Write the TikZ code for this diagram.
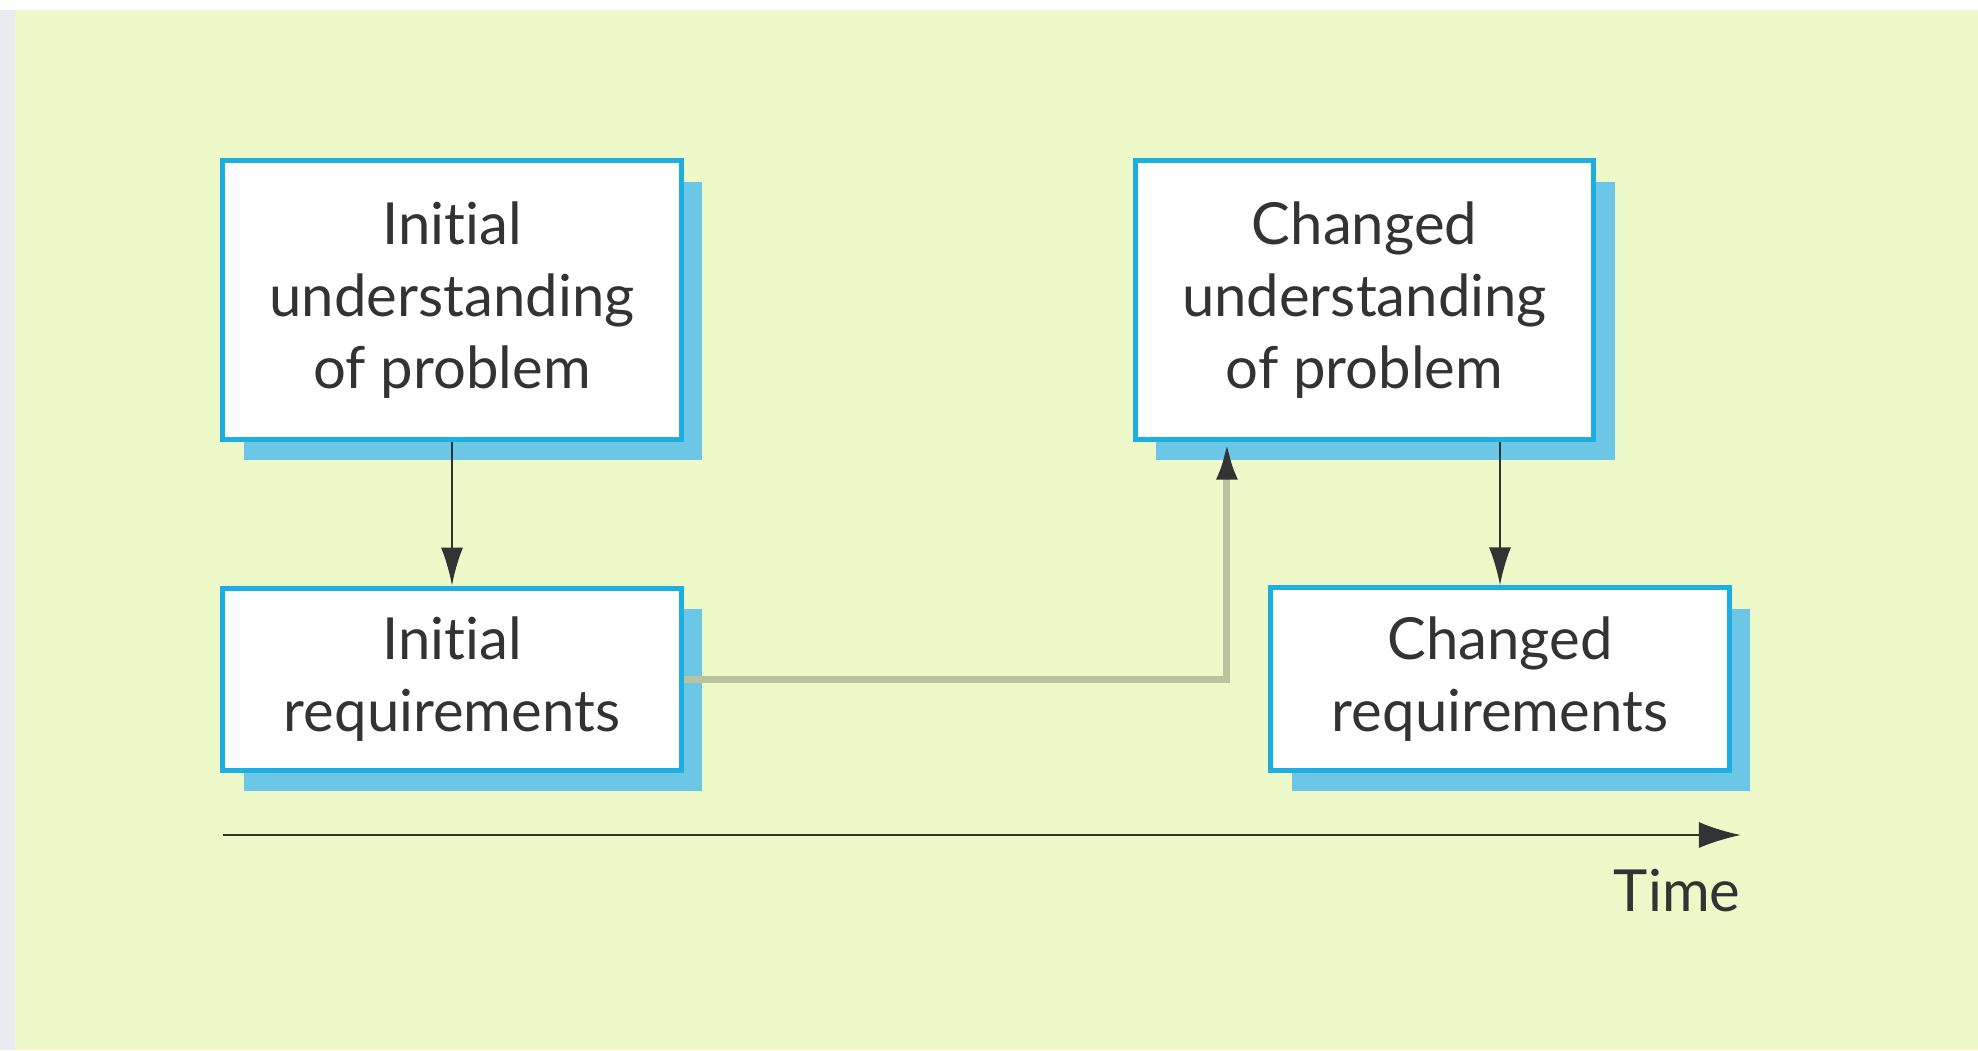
\documentclass[tikz,border=0pt]{standalone}
\usepackage{fontspec}
\setmainfont[Ligatures=NoCommon]{Lato}
\usetikzlibrary{positioning,shadows,arrows.meta}
\definecolor{bgyellow}{HTML}{EEF9C9}
\definecolor{leftstrip}{HTML}{E9EDF2}
\definecolor{boxcyan}{HTML}{1DAFDF}
\definecolor{shadowcyan}{HTML}{6CC6E6}
\definecolor{linkolive}{HTML}{B9C49E}
\definecolor{textgrey}{HTML}{333333}

\begin{document}
\begin{tikzpicture}[
    x=0.01cm, y=-0.01cm,
    node distance=3.79cm,
    box/.style={rectangle, draw=boxcyan, line width=0.05cm, fill=white, text=textgrey, minimum width=4.58cm, align=center, font=\fontsize{16.5}{20.5}\selectfont, drop shadow={shadow xshift=0.21cm, shadow yshift=-0.21cm, fill=shadowcyan, opacity=1}},
    tallbox/.style={box, minimum height=2.78cm},
    shortbox/.style={box, minimum height=1.82cm},
    arrow/.style={-{Latex[length=0.38cm, width=0.22cm]}, line width=0.025cm, draw=textgrey}
]
    % Background
    \fill[white] (0,0) rectangle (1978,1050);
    \fill[leftstrip] (0,10) rectangle (15,1050);
    \fill[bgyellow] (15,10) rectangle (1978,1050);
    \useasboundingbox (0,0) rectangle (1978,1050);

    % Initial understanding
    \node[tallbox] (iu) at (452,300) {Initial\\ understanding\\ of problem};

    % Initial requirements
    \node[shortbox, below of=iu] (ir) {Initial\\ requirements};

    % Changed understanding
    \node[tallbox, right of=iu, node distance=9.12cm] (cu) {Changed\\ understanding\\ of problem};

    % Changed requirements
    \node[shortbox] (cr) at (1500,679) {Changed\\ requirements};

    % Time axis
    \coordinate (tstart) at (223,835);
    \coordinate (tend) at (1741,835);
    \node[anchor=east, text=textgrey, font=\fontsize{16.5}{20.5}\selectfont, inner sep=0pt] (time) at (1741,891) {Time};

    % Arrows
    \draw[arrow] (iu) -- (ir);
    \draw[arrow, draw=linkolive, line width=0.07cm, -{Latex[length=0.38cm, width=0.22cm, color=textgrey]}] (ir.east) -| ([xshift=-1.375cm]cu.south);
    \draw[arrow] (cu.south -| cr.north) -- (cr.north);
    \draw[arrow, -{Latex[length=0.42cm, width=0.26cm]}] (tstart) -- (tend);

\end{tikzpicture}
\end{document}
